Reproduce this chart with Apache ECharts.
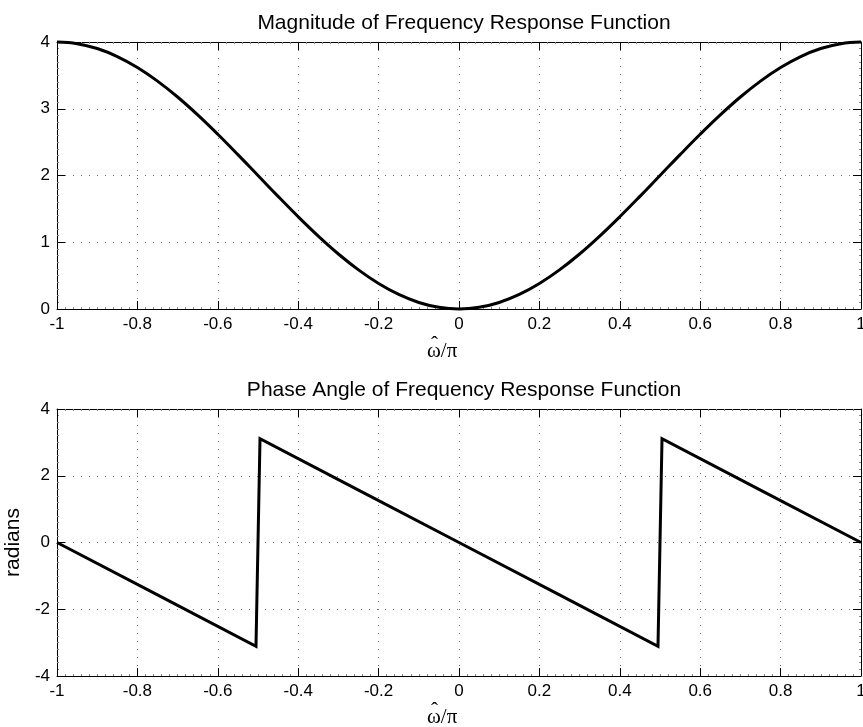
<!DOCTYPE html>
<html>
<head>
<meta charset="utf-8">
<script src="https://cdn.jsdelivr.net/npm/echarts@6/dist/echarts.min.js"></script>
<style>
html,body{margin:0;padding:0;background:#fff;}
#c{width:863px;height:727px;}
</style>
</head>
<body>
<div id="c"></div>
<script>
// ---- data ----
const magX = [-1,-0.95,-0.9,-0.85,-0.8,-0.75,-0.7,-0.65,-0.6,-0.55,-0.5,-0.45,-0.4,-0.35,-0.3,-0.25,-0.2,-0.15,-0.1,-0.05,0,
              0.05,0.1,0.15,0.2,0.25,0.3,0.35,0.4,0.45,0.5,0.55,0.6,0.65,0.7,0.75,0.8,0.85,0.9,0.95,1];
const magY = [4,3.975,3.902,3.782,3.618,3.414,3.176,2.908,2.618,2.313,2.0,1.687,1.382,1.092,0.824,0.586,0.382,0.218,0.098,0.025,0,
              0.025,0.098,0.218,0.382,0.586,0.824,1.092,1.382,1.687,2.0,2.313,2.618,2.908,3.176,3.414,3.618,3.782,3.902,3.975,4];
const phaseX = [-1,-0.75,-0.505,-0.495,-0.25,0,0.25,0.495,0.505,0.75,1];
const phaseY = [0,-1.57,-3.11,3.11,1.57,0,-1.57,-3.11,3.11,1.57,0];
const magTicksY = [0,1,2,3,4];
const phaseTicksY = [-4,-2,0,2,4];
const titles = ['Magnitude of Frequency Response Function','Phase Angle of Frequency Response Function'];
const xNameBase = 'ω/π';
const xNameHat = 'ˆ';
const yName2 = 'radians';

const FONT = '"Liberation Sans", Arial, Helvetica, sans-serif';
const SERIF = '"Liberation Serif", "Times New Roman", serif';

const chart = echarts.init(document.getElementById('c'), null, {renderer:'canvas'});

function xAxisPair(gi){
  const common = {
    type:'value', gridIndex:gi, min:-1, max:1, interval:0.2,
    axisLine:{show:true, onZero:false, lineStyle:{color:'#000', width:1}},
    axisTick:{show:true, inside:true, length:8, lineStyle:{color:'#000'}},
    minorTick:{show:true, splitNumber:10, length:2, lineStyle:{color:'#888'}}
  };
  return [
    Object.assign({}, common, {
      position:'bottom',
      axisLabel:{show:true, color:'#000', fontSize:17, fontFamily:FONT, margin:7,
        formatter: v => String(Math.round(v*10)/10)},
      splitLine:{show:true, lineStyle:{color:'#777', type:[1,7], width:1}}
    }),
    Object.assign({}, common, {
      position:'top', axisLabel:{show:false}, splitLine:{show:false}
    })
  ];
}
function yAxisPair(gi, min, max, interval, name){
  const common = {
    type:'value', gridIndex:gi, min:min, max:max, interval:interval,
    axisLine:{show:true, onZero:false, lineStyle:{color:'#000', width:1}},
    axisTick:{show:true, inside:true, length:8, lineStyle:{color:'#000'}},
    minorTick:{show:true, splitNumber:10, length:2, lineStyle:{color:'#888'}}
  };
  return [
    Object.assign({}, common, {
      position:'left',
      name:name||'', nameLocation:'middle', nameGap:30, nameRotate:90,
      nameTextStyle:{color:'#000', fontSize:21, fontFamily:FONT},
      axisLabel:{show:true, color:'#000', fontSize:17, fontFamily:FONT, margin:7},
      splitLine:{show:true, lineStyle:{color:'#777', type:[1,7], width:1}}
    }),
    Object.assign({}, common, {
      position:'right', axisLabel:{show:false}, splitLine:{show:false}
    })
  ];
}

function xLabel(cx, top){
  return {type:'group', left:cx-16, top:top, children:[
    {type:'text', x:0, y:0, style:{text:xNameBase, fill:'#000', font:'21px ' + SERIF}},
    {type:'text', x:4, y:-6, style:{text:xNameHat, fill:'#000', font:'21px ' + SERIF}}
  ]};
}

const option = {
  backgroundColor:'#fff',
  animation:false,
  title:[
    {text:titles[0], left:459, top:8, textAlign:'center',
     textStyle:{color:'#000', fontSize:21, fontWeight:'normal', fontFamily:FONT}},
    {text:titles[1], left:459, top:375, textAlign:'center',
     textStyle:{color:'#000', fontSize:21, fontWeight:'normal', fontFamily:FONT}}
  ],
  grid:[
    {left:57, right:2, top:42, height:267, containLabel:false, outerBoundsMode:'none'},
    {left:57, right:2, top:409, height:267, containLabel:false, outerBoundsMode:'none'}
  ],
  xAxis:[].concat(xAxisPair(0), xAxisPair(1)),
  yAxis:[].concat(yAxisPair(0, magTicksY[0], magTicksY[magTicksY.length-1], 1, ''),
                  yAxisPair(1, phaseTicksY[0], phaseTicksY[phaseTicksY.length-1], 2, yName2)),
  graphic:[ xLabel(443, 335), xLabel(443, 701) ],
  series:[
    {type:'line', xAxisIndex:0, yAxisIndex:0, data:magX.map((x,i)=>[x,magY[i]]),
     showSymbol:false, clip:false, smooth:0.4, lineStyle:{color:'#000', width:3}, z:5},
    {type:'line', xAxisIndex:2, yAxisIndex:2, data:phaseX.map((x,i)=>[x,phaseY[i]]),
     showSymbol:false, clip:false, lineStyle:{color:'#000', width:3, join:'miter'}, z:5}
  ]
};
chart.setOption(option);
</script>
</body>
</html>
